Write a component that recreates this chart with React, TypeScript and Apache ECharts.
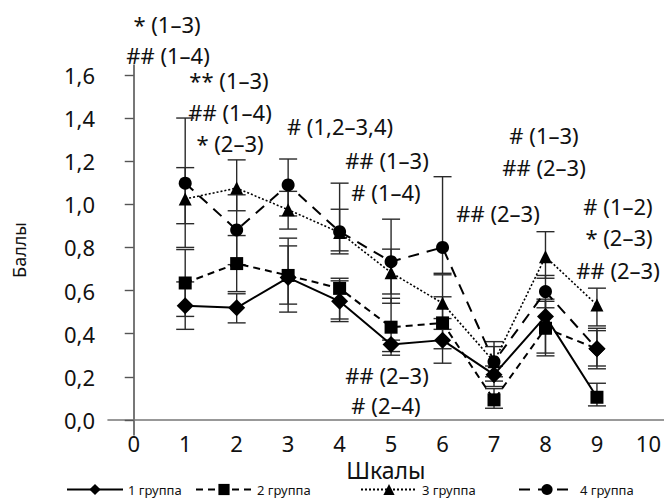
import React, { useEffect, useRef } from "react";
import * as echarts from "echarts";

const xs = [1, 2, 3, 4, 5, 6, 7, 8, 9];
const xTicks = [0, 1, 2, 3, 4, 5, 6, 7, 8, 9, 10];
const yTicks = [0, 0.2, 0.4, 0.6, 0.8, 1.0, 1.2, 1.4, 1.6];

const names = ["1 группа", "2 группа", "3 группа", "4 группа"];

const g1 = [0.53, 0.52, 0.66, 0.55, 0.35, 0.37, 0.21, 0.48, 0.105];
const g1Lo = [0.42, 0.45, 0.5, 0.456, 0.317, 0.263, 0.155, 0.31, 0.065];
const g1Hi = [0.64, 0.585, 0.843, 0.645, 0.37, 0.47, 0.25, 0.56, 0.17];

const g2 = [0.635, 0.725, 0.67, 0.61, 0.43, 0.45, 0.093, 0.425, 0.33];
const g2Lo = [0.48, 0.595, 0.537, 0.468, 0.3, 0.33, 0.054, 0.297, 0.25];
const g2Hi = [0.79, 0.855, 0.807, 0.657, 0.564, 0.571, 0.145, 0.55, 0.425];

const g3 = [1.025, 1.075, 0.975, 0.869, 0.683, 0.541, 0.27, 0.757, 0.533];
const g3Lo = [0.91, 0.97, 0.885, 0.784, 0.584, 0.42, 0.2, 0.657, 0.436];
const g3Hi = [1.17, 1.206, 1.06, 0.977, 0.792, 0.673, 0.34, 0.873, 0.611];

const g4 = [1.098, 0.881, 1.09, 0.873, 0.734, 0.8, 0.27, 0.595, 0.33];
const g4Lo = [0.8, 0.72, 0.946, 0.77, 0.541, 0.68, 0.18, 0.52, 0.237];
const g4Hi = [1.4, 1.044, 1.21, 1.098, 0.931, 1.128, 0.363, 0.67, 0.414];

// marker overrides seen in the reference at scale 9
const g1Symbols = ["diamond", "diamond", "diamond", "diamond", "diamond", "diamond", "diamond", "diamond", "rect"];
const g2Symbols = ["rect", "rect", "rect", "rect", "rect", "rect", "rect", "rect", "diamond"];
const g4Symbols = ["circle", "circle", "circle", "circle", "circle", "circle", "circle", "circle", "diamond"];

const annotations = [
  { text: "* (1–3)", x: 167, y: 24 },
  { text: "## (1–4)", x: 168, y: 55 },
  { text: "** (1–3)", x: 229, y: 80 },
  { text: "## (1–4)", x: 230, y: 112 },
  { text: "* (2–3)", x: 230, y: 143 },
  { text: "# (1,2–3,4)", x: 340, y: 126 },
  { text: "## (1–3)", x: 387, y: 160 },
  { text: "# (1–4)", x: 386, y: 192 },
  { text: "## (2–3)", x: 498, y: 213 },
  { text: "# (1–3)", x: 544, y: 135 },
  { text: "## (2–3)", x: 544, y: 167 },
  { text: "# (1–2)", x: 618, y: 206 },
  { text: "* (2–3)", x: 619, y: 237 },
  { text: "## (2–3)", x: 618, y: 270 },
  { text: "## (2–3)", x: 387, y: 375 },
  { text: "# (2–4)", x: 386, y: 405 },
];

const legendLefts = [66, 195, 360, 518];

const FONT = "Noto Sans";

function symSize(s: string) {
  if (s === "diamond") return 17;
  return 13;
}

function lineData(vals: number[], syms?: string[]) {
  return vals.map((v, i) => {
    const s = syms ? syms[i] : undefined;
    if (!s) return [xs[i], v];
    return { value: [xs[i], v], symbol: s, symbolSize: symSize(s) };
  });
}

function errData(lo: number[], hi: number[]) {
  return xs.map((x, i) => [x, lo[i], hi[i]]);
}

function renderErr(params: any, api: any) {
  const x = api.value(0);
  const lo = api.coord([x, api.value(1)]);
  const hi = api.coord([x, api.value(2)]);
  const hw = 9;
  const style = { stroke: "#2a2a2a", lineWidth: 1.4, fill: null };
  return {
    type: "group",
    children: [
      { type: "line", shape: { x1: lo[0], y1: lo[1], x2: hi[0], y2: hi[1] }, style },
      { type: "line", shape: { x1: lo[0] - hw, y1: lo[1], x2: lo[0] + hw, y2: lo[1] }, style },
      { type: "line", shape: { x1: hi[0] - hw, y1: hi[1], x2: hi[0] + hw, y2: hi[1] }, style },
    ],
  };
}

export default function App() {
  const ref = useRef<HTMLDivElement>(null);
  useEffect(() => {
    document.body.style.margin = "0";
    if (!ref.current) return;
    const chart = echarts.init(ref.current, null, { renderer: "svg" });
    const errSeries = [
      errData(g1Lo, g1Hi),
      errData(g2Lo, g2Hi),
      errData(g3Lo, g3Hi),
      errData(g4Lo, g4Hi),
    ].map((d, i) => ({
      type: "custom",
      name: "err" + i,
      renderItem: renderErr,
      data: d,
      z: 1,
      silent: true,
    }));
    const option: any = {
      animation: false,
      backgroundColor: "#ffffff",
      textStyle: { fontFamily: FONT },
      grid: { left: 108, right: 0, top: 65, bottom: 66 },
      xAxis: {
        type: "value",
        min: -0.5,
        max: 10.3,
        name: "Шкалы",
        nameLocation: "middle",
        nameGap: 18,
        nameTextStyle: { fontSize: 23, color: "#111", fontFamily: FONT },
        splitLine: { show: false },
        axisLine: { onZero: true, lineStyle: { color: "#777", width: 1.6 } },
        axisTick: { show: false },
        axisLabel: {
          customValues: xTicks,
          fontSize: 22,
          color: "#111",
          margin: -3,
          fontFamily: FONT,
        },
      },
      yAxis: {
        type: "value",
        min: -0.07,
        max: 1.646,
        name: "Баллы",
        nameLocation: "middle",
        nameGap: 80,
        nameRotate: 90,
        nameTextStyle: { fontSize: 18, color: "#111", fontFamily: FONT },
        splitLine: { show: false },
        axisLine: { show: true, lineStyle: { color: "#555", width: 1.6 } },
        axisTick: { show: true, customValues: yTicks, length: 9, lineStyle: { color: "#555", width: 1.4 } },
        axisLabel: {
          customValues: yTicks,
          fontSize: 22,
          color: "#111",
          margin: 13,
          fontFamily: FONT,
          formatter: (v: number) => v.toFixed(1).replace(".", ","),
        },
      },
      legend: names.map((n, i) => ({
        data: [n],
        left: legendLefts[i],
        top: 483,
        padding: 0,
        itemWidth: 56,
        itemHeight: 14,
        textStyle: { fontSize: 13, color: "#111", fontFamily: FONT },
      })),
      graphic: annotations.map((a) => ({
        type: "text",
        x: a.x,
        y: a.y,
        style: {
          text: a.text,
          fontSize: 22,
          fontFamily: FONT,
          fill: "#111",
          align: "center",
          verticalAlign: "middle",
        },
      })),
      series: [
        ...errSeries,
        {
          type: "line",
          name: names[0],
          data: lineData(g1, g1Symbols),
          symbol: "diamond",
          symbolSize: 17,
          itemStyle: { color: "#000" },
          lineStyle: { color: "#000", width: 2, type: "solid" },
          z: 5,
        },
        {
          type: "line",
          name: names[1],
          data: lineData(g2, g2Symbols),
          symbol: "rect",
          symbolSize: 13,
          itemStyle: { color: "#000" },
          lineStyle: { color: "#000", width: 2, type: [7, 5] },
          z: 4,
        },
        {
          type: "line",
          name: names[2],
          data: lineData(g3),
          symbol: "triangle",
          symbolSize: 13,
          itemStyle: { color: "#000" },
          lineStyle: { color: "#000", width: 1.6, type: [2, 2] },
          z: 3,
        },
        {
          type: "line",
          name: names[3],
          data: lineData(g4, g4Symbols),
          symbol: "circle",
          symbolSize: 13,
          itemStyle: { color: "#000" },
          lineStyle: { color: "#000", width: 2, type: [11, 8] },
          z: 2,
        },
      ],
    };
    chart.setOption(option);
    return () => chart.dispose();
  }, []);
  return <div ref={ref} style={{ width: 664, height: 501 }} />;
}
